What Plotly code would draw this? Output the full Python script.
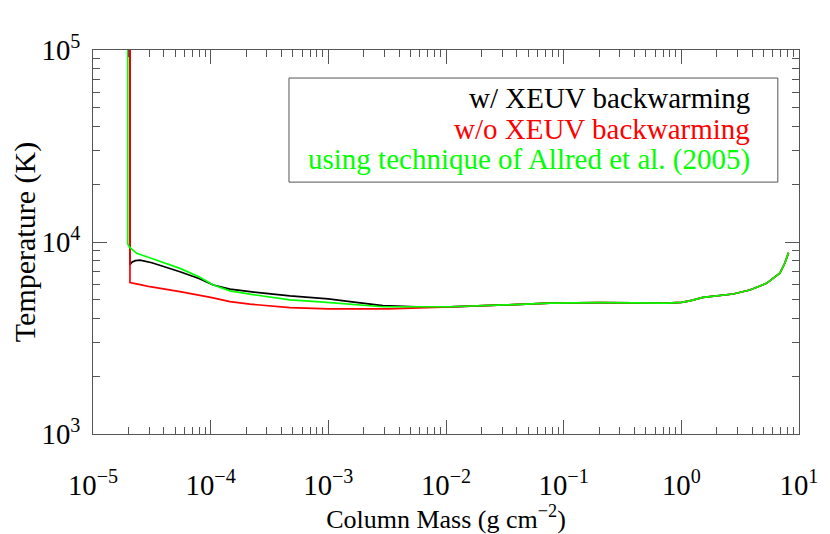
import plotly.graph_objects as go

# log10(column mass [g cm^-2]) and temperature [K]
black_logm = [-4.686, -4.686, -4.67, -4.64, -4.60, -4.50, -4.40, -4.261, -4.10, -3.978,
              -3.836, -3.666, -3.326, -3.0, -2.816, -2.536, -2.247, -1.967]
black_T = [3e5, 7600, 7850, 8000, 8050, 7800, 7450, 7000, 6450, 5970,
           5680, 5510, 5240, 5050, 4890, 4660, 4600, 4590]

red_logm = [-4.686, -4.686, -4.60, -4.516, -4.261, -4.0, -3.836, -3.666, -3.326, -3.0,
            -2.5, -2.247, -1.967]
red_T = [3e5, 6140, 6000, 5850, 5510, 5150, 4890, 4745, 4550, 4480,
         4480, 4520, 4590]

green_logm = [-4.705, -4.705, -4.69, -4.629, -4.50, -4.261, -4.10, -3.978, -3.836, -3.666,
              -3.326, -3.097, -2.536, -1.967, -1.5, -1.117, -0.692, -0.126, 0.0, 0.072,
              0.185, 0.44, 0.582, 0.724, 0.837, 0.879, 0.911]
green_T = [3e5, 9800, 9400, 8730, 8200, 7290, 6600, 5970, 5570, 5350,
           4990, 4890, 4600, 4600, 4700, 4800, 4830, 4800, 4850, 4940,
           5150, 5360, 5620, 6090, 6870, 7750, 8790]

# shared deep-atmosphere tail (all three curves coincide there)
tail_logm = [-1.5, -1.117, -0.692, -0.126, 0.0, 0.072, 0.185, 0.44, 0.582, 0.724, 0.837, 0.879, 0.911]
tail_T = [4700, 4800, 4830, 4800, 4850, 4940, 5150, 5360, 5620, 6090, 6870, 7750, 8790]

legend_labels = ["w/ XEUV backwarming", "w/o XEUV backwarming",
                 "using technique of Allred et al. (2005)"]
colors = ["#000000", "#ff0000", "#00ff00"]

x_tick_alias = {"1": "10<sup>0</sup>", "10": "10<sup>1</sup>"}

FONT = "Liberation Serif, Times New Roman, serif"

fig = go.Figure()
series = [
    (black_logm + tail_logm, black_T + tail_T, colors[0]),
    (red_logm + tail_logm, red_T + tail_T, colors[1]),
    (green_logm, green_T, colors[2]),
]
for lm, T, c in series:
    fig.add_trace(go.Scatter(x=[10 ** v for v in lm], y=T, mode="lines",
                             line=dict(color=c, width=1.7), showlegend=False))

axis_common = dict(
    type="log", showgrid=False, zeroline=False, showline=True, linecolor="#555555",
    linewidth=1, mirror="allticks", ticks="inside", ticklen=14, tickcolor="#555555",
    tickwidth=1, dtick=1, exponentformat="power", showexponent="all", automargin=False,
    tickfont=dict(family=FONT, size=23, color="#000"),
    minor=dict(ticks="inside", ticklen=7, tickcolor="#555555", tickwidth=1, showgrid=False),
)

fig.update_xaxes(**axis_common, range=[-5, 1], ticklabelstandoff=27, labelalias=x_tick_alias,
                 title=dict(text="Column Mass (g cm<sup>−2</sup>)",
                            font=dict(family=FONT, size=26, color="#000"), standoff=8))
fig.update_yaxes(**axis_common, range=[3, 5], ticklabelstandoff=7,
                 title=dict(text="Temperature (K)",
                            font=dict(family=FONT, size=30, color="#000"), standoff=12))

fig.add_shape(type="rect", xref="paper", yref="paper", x0=0.2776, x1=0.970,
              y0=0.656, y1=0.927, line=dict(color="#555555", width=1))
for i, (lab, c) in enumerate(zip(legend_labels, colors)):
    fig.add_annotation(xref="paper", yref="paper", x=0.933, y=0.875 - 0.0795 * i,
                       text=lab, showarrow=False, xanchor="right", yanchor="middle",
                       font=dict(family=FONT, size=29, color=c))

# page body has an 8px default margin, so the figure is 8px smaller than the window
fig.update_layout(width=822, height=526, margin=dict(l=85, r=31, t=42, b=100),
                  plot_bgcolor="white", paper_bgcolor="white")
fig.write_html("out.html")
